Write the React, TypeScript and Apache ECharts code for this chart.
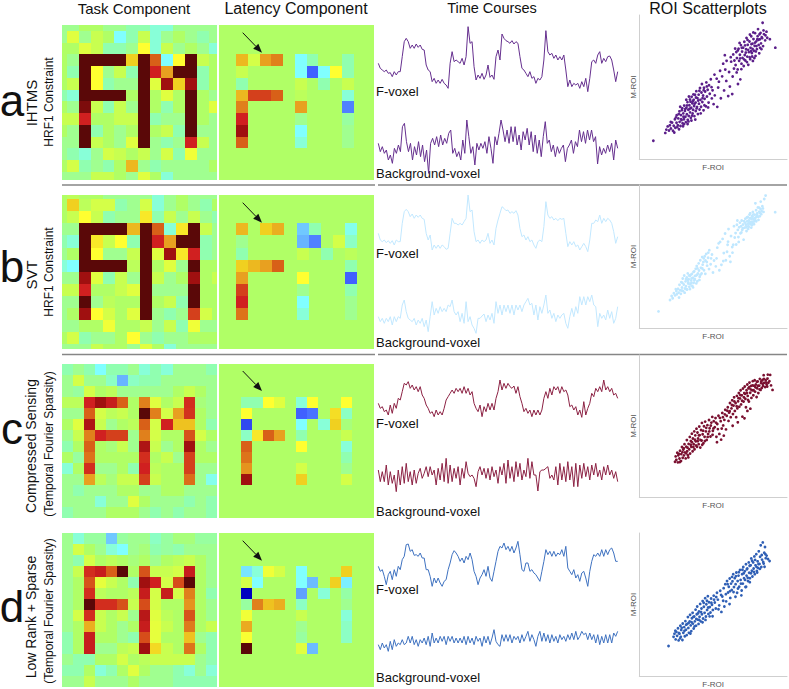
import React, { useEffect, useRef } from "react";
import * as echarts from "echarts";

const titles = ["Task Component", "Latency Component", "Time Courses", "ROI Scatterplots"];

// ---- task component maps (rows of 14 cells on the colour scale -9..9)
const taskA = [
[-1,-1,0,0,-1,-1,-2,-2,-3,-3,-1,-1,-1,-1],
[-1,2,-1,1,0,-4,-2,1,-3,-1,0,-1,-2,-1],
[0,0,2,1,-2,-2,-1,3,-3,1,-1,0,-1,-3],
[0,-1,9,9,9,9,4,9,6,-4,3,9,1,0],
[0,-2,9,3,-1,1,-2,9,7,5,9,9,-2,0],
[0,1,9,3,-2,-1,-1,9,2,8,4,8,-2,0],
[-2,-3,9,9,9,9,0,9,0,2,0,9,0,-1],
[0,-1,8.5,1,-2,1,-1,9,0,-2,0,9,0,2],
[1,1,7,0,0,1,1,9,-2,-1,-1,9,0,-1],
[0,-1,9,-2,0,-1,0,9,0,1,-2,9,-1,-1],
[-1,-1,9,1,0,-1,2,9,-1,-2,-1,7,1,-1],
[-1,-2,-3,-1,1.5,1,0,1,-1,1.5,-2,2.5,-1,-1],
[0,1.5,-2,-1,-2,0,4.5,-1,-2,-1,-1,-1,-1,0],
[-1,-1,-1,1,1,0,-1,2,0,-3,-1,-1,-1,-1],
];
const taskB = [
[0,0.5,0,0,-1,-1,-1,-1,-3,-1,0,-1,-1,-1],
[0,4,0.5,1.5,1.5,-2,-1,1.5,-3,-1,0,-1,-2,0],
[0,1,3,1,-2,-1,-1,3.5,-2,1,-1,1,-1,-2],
[-1,-1,9,9,9,9,4.5,9,6,-3,3.5,9,1,-1],
[-2,-3,9,3.5,1,3,-2,9,7,5,9,9,-2,-1],
[-1,0,9,3,-1,-1,1,9,2,8,3.5,7,-2,-1],
[-3,-4,9,9,9,9,0.5,9,0,2,-1,9,0,0],
[-1,-1,8,2,-2,1,-1,9,1,-1,0,8,0,1],
[1,1,7,0,0,1,2,9,-1,-1,-1,9,0,0],
[-1,-1,9,-1,0.5,0,0,9,0,1,-2,9,0,0],
[-1,0,8,3,1.5,0,2,9,-1,-2,-1,6.5,1.5,0],
[-1,-1,0,0,2.5,0,0,1,-1,1,-2,2.5,-1,-1],
[0,1.5,-2,-1,-1,0,3,-1,-2,-1,-1,0,0,0],
[-1,-1,-1,1,0,0,-1,2,0,-3,-1,-1,-1,-1],
];
const taskC = [
[-2,-1,-2,-4,-2,-2,-1,-3,-2,-3,-1,-1,-1,-2],
[-1,1.5,-1,-1,-2.5,-5.5,-2.5,-2,-2,-1,-1,-1,-1,-1],
[-1,-1.5,1.5,0,0.5,-1,-1,-1,-1,-1,0,1,0,-1],
[0.5,0.5,7,8,7.2,6,0,5.5,2,0,1,6.8,-0.5,-1],
[-1,-1,6,1.5,0.5,1,0,9,5.5,1.5,5,6.7,0,-1],
[0,2,7.7,1,-1,0,0.5,6,1.5,7,4.3,4.3,0,-2],
[-1,1,5.5,7,6.5,6.5,-1,5.5,1.5,0,0,6.2,1.5,0],
[-2,0,6,0,-0.5,1,-1,7.7,1,-1,0,8,0,-1],
[0,-1.5,5.7,0,0,0,0,6.8,0,1,-1,6.5,0,0],
[-3,0,6.8,-1,-1,0,-2,7,0.5,0,0,6.5,-1,-1],
[-1,-1,5,0.5,-0.5,1,1,6.5,1,0,0,5.8,-1,-3.5],
[-1,-2,-1,-1,-1,0,0,-1,-1,0,0,-1,-1,-1],
[-1,-1,-1,-3,-1,-1,2,0,-1,-1,-1,-2,-1,-2],
[-2,-1,-1,-1,0,0,0,-1,-2,-1,-2,-1,-1,-2],
];
const taskD = [
[-1,-3,-1.5,-1.5,-5,-1.5,-1,-1,-2.5,-1.5,-0.5,-0.5,-1.5,-1.5],
[-1,1.5,0,-1,-3,-4,-1,-0.5,-2,-1.5,-2,-1,-1,-1],
[-1,-2,1.5,0,0.5,0,-0.5,0,-1,0,0.5,1,0,-1],
[-1,1,6.8,7.2,6,9,0,6.2,1,1,1.5,7.2,0,-1],
[-1,0,6.2,2.2,1,0,-2,8,7,1.5,6.3,9,0,-1],
[-1,0,6.8,0.5,0,0,0.5,7.2,1.5,7.2,1.5,5.5,0,-2],
[-1,0,9,6.8,6.8,6.2,1,6.3,1.5,0,0,5.2,0,-1],
[-1,1.5,6.8,1,0,1,-1,7.5,2,0.5,0,6.2,0,-1],
[-1,0,4.7,1,0,-1,0,7.2,2.2,1,0,5.6,0,1],
[-2,0,7.2,0,0,-1,-2,6.3,2.2,0,0,4.3,-1,-2],
[-2,0,7.2,-1,-1,0.5,1,8,3.8,1,0,5.7,0,-2],
[-1,-2,-2,0,0,1.5,0,0.5,1,1,1,1,-1,-2],
[-2,-2,0,-3,-2,0,2,0,-1,-1,-2,-3,-1,-3],
[-1,-1,1,-1,-1,-1,0,-1,-1,-1,-2,-2,-2,-2],
];

// ---- latency component maps: [row, column, value]; every other cell is 0
const latencyA = [
[3,2,4.5],[3,3,1.5],[3,4,5],[3,5,5.5],[3,7,-4],[3,8,-2],[3,11,-2],
[4,2,1],[4,7,-4],[4,8,-7],[4,9,-4],[4,10,3],[4,11,-2],
[5,2,-2],[5,7,1],[5,9,-2],[5,11,1],
[6,2,4.5],[6,3,6.5],[6,4,6.5],[6,5,6],[6,7,0.5],[6,11,-3],
[7,2,5.5],[7,7,5],[7,11,-6.5],
[8,2,7],[8,7,-1],[8,11,-1.5],
[9,2,8],[9,7,-4],[9,11,-1],
[10,2,6],[10,7,-3],[10,11,-1],
];
const latencyB = [
[3,2,4.5],[3,4,4],[3,5,4.7],[3,7,-5],[3,8,-2],[3,11,-3.5],
[4,2,-1],[4,7,-5.5],[4,8,-6.5],[4,10,1.5],[4,11,-2.5],
[5,2,-2],[5,7,1],[5,9,-2],[5,11,0.5],
[6,2,4],[6,3,4.5],[6,4,5],[6,5,6],[6,11,-2],
[7,2,5],[7,7,3],[7,11,-7],
[8,2,6.5],[8,7,-1],[8,11,-2],
[9,2,7],[9,7,-4],[9,11,-1],
[10,2,5.7],[10,7,-3],[10,11,-1],
];
const latencyC = [
[3,2,-2],[3,3,-2],[3,4,3],[3,5,2],[3,7,-3],[3,8,3],[3,11,3],
[4,2,3],[4,7,-7],[4,8,-6.7],[4,10,3.7],[4,11,-2.5],
[5,2,-7.5],[5,7,-4],[5,9,-3],[5,10,4],[5,11,-0.5],
[6,2,-2.5],[6,3,3.5],[6,4,6],[6,5,5],[6,7,-2],[6,11,1],
[7,2,6],[7,7,3],[7,11,-3],
[8,2,5.7],[8,11,-2],
[9,2,5.2],[9,7,1.5],[9,11,-1],
[10,2,8],[10,7,4],[10,11,1.5],
];
const latencyD = [
[3,2,-4.5],[3,3,-3],[3,4,2.5],[3,5,1.5],[3,7,-4],[3,11,4],
[4,2,1.5],[4,3,-4],[4,7,-4],[4,8,-5.3],[4,10,4],[4,11,-4.3],
[5,2,-9],[5,7,-6],[5,9,-3],[5,11,-1.7],
[6,2,-1.5],[6,3,5.5],[6,4,4.3],[6,5,4.7],[6,7,-2.5],[6,11,-1],
[7,2,2.5],[7,7,1],[7,11,-3],
[8,2,4.8],[8,7,-1],[8,11,-2.5],
[9,2,2.8],[9,7,-1.5],[9,11,-2.5],
[10,2,9],[10,7,2],[10,8,-5.3],
];

// ---- time courses, read downward on an inverted scale
const courseAF = [130,145,150,155,150,160,158,170,155,165,155,155,110,65,55,65,85,75,85,72,82,75,88,90,135,150,155,185,175,190,180,190,178,190,195,205,130,95,125,120,125,130,115,135,110,20,70,65,140,180,165,175,160,178,165,135,172,165,178,110,90,120,42,55,62,65,70,62,72,65,70,110,145,150,160,170,155,175,170,190,175,180,170,120,32,95,105,100,115,105,120,110,120,105,150,200,180,200,190,195,190,205,185,200,175,215,175,125,120,130,105,95,130,115,125,110,108,120,150,185,155];
const courseAB = [370,395,380,400,390,420,405,430,385,400,375,395,320,310,365,395,370,420,380,405,365,410,375,425,390,460,370,355,375,350,380,345,375,355,370,340,330,400,385,410,395,420,360,400,300,350,400,380,435,370,390,370,385,365,400,350,385,430,350,375,340,300,330,365,330,370,320,365,320,375,345,390,335,360,325,375,335,395,345,400,360,410,350,305,370,360,395,375,410,380,400,385,375,425,385,375,360,400,365,380,330,365,335,370,330,360,330,365,350,432,380,405,385,400,375,395,370,420,360,385];
const courseBF = [130,150,155,150,158,152,160,152,165,150,155,155,100,65,58,65,80,72,85,75,82,75,85,88,130,150,135,180,165,175,165,175,165,170,178,175,130,85,100,100,105,100,105,95,85,15,65,60,125,155,150,160,150,155,150,130,160,150,165,115,90,70,50,55,62,60,70,65,70,62,75,115,140,135,150,140,155,150,165,175,155,150,155,110,35,75,85,80,90,85,92,85,88,85,130,170,155,165,155,170,165,180,170,160,170,185,150,100,100,90,95,75,100,85,95,85,90,100,125,160,140];
const courseBB = [380,395,385,400,385,395,380,405,380,395,380,385,345,330,365,385,390,395,385,405,390,400,385,410,390,425,380,335,375,355,370,350,365,355,365,345,350,330,365,375,365,395,370,400,335,395,380,405,415,430,385,385,378,372,395,375,390,370,400,335,370,345,375,345,365,345,370,345,375,345,360,345,365,345,335,325,345,340,375,345,390,350,370,345,315,370,360,385,370,395,375,385,375,370,400,415,380,355,380,350,370,320,345,320,345,320,335,315,345,350,410,370,385,375,390,360,385,365,400,385,350];
const courseCF = [130,145,140,155,150,165,135,160,130,145,115,120,95,70,75,65,85,75,90,80,95,80,105,115,135,145,160,155,170,150,165,155,165,145,120,110,100,90,100,85,95,85,100,80,100,85,105,95,130,145,155,135,170,140,155,130,150,130,150,115,95,60,90,70,85,70,80,85,78,100,80,110,130,155,145,160,150,170,150,165,150,165,150,115,95,115,85,105,80,90,80,100,80,95,90,105,140,135,150,140,165,150,172,125,165,145,130,100,110,85,95,80,95,60,90,80,95,85,105,100,115];
const courseCB = [330,365,335,365,315,375,335,370,345,395,330,375,320,370,310,365,335,375,330,370,340,325,355,340,320,350,320,345,330,375,325,360,310,365,295,370,315,365,325,355,320,375,325,355,305,340,350,345,355,380,335,320,345,325,355,325,360,320,350,330,370,320,345,310,370,300,355,320,365,305,350,310,360,330,350,295,355,305,345,345,393,335,330,330,325,320,355,345,360,320,375,310,360,320,365,305,360,320,380,310,380,315,355,310,350,320,360,315,345,310,350,330,360,320,345,315,345,330,355,335,365];
const courseDF = [115,130,125,145,170,140,130,155,125,145,115,125,95,85,50,48,70,65,82,80,85,75,90,90,125,125,145,175,150,165,150,165,175,160,155,125,105,80,68,75,85,100,90,105,85,95,75,95,130,145,170,150,140,125,145,115,150,160,130,100,70,55,60,45,65,55,70,55,75,60,40,80,125,130,105,105,130,125,135,140,150,160,130,100,65,80,70,85,70,85,75,80,65,85,55,120,130,140,125,150,140,160,135,130,150,175,130,100,80,85,75,85,65,85,65,80,65,60,75,100,100];
const courseDB = [350,365,345,360,350,370,340,365,335,355,345,350,335,350,345,325,345,325,350,335,355,335,345,330,350,325,355,315,345,330,345,325,340,325,350,325,340,325,345,330,345,330,345,325,350,325,345,330,350,325,340,330,355,325,345,325,350,330,305,340,350,355,320,340,320,340,320,345,325,335,325,345,320,340,325,310,340,320,335,355,325,310,340,315,340,320,345,320,340,325,345,320,335,325,340,320,335,315,335,310,335,325,310,320,315,335,315,335,320,345,320,350,325,345,320,345,320,345,315,325,310];

// ---- ROI scatterplots: [F-ROI, M-ROI]
const scatterA = [
[9.5,12.7],[17.6,18.1],[18.3,20.4],[19.2,22.6],[20.1,19.8],[20.7,23.4],[21.4,21.2],[22.2,25.3],[22.8,19.6],[23.3,23.1],[24.1,27.6],[24.4,21.7],[25.2,25.2],[25.3,30.4],[26.1,23.4],[26.4,28.2],[27.2,33.1],[27.3,25.8],[27.9,22.9],[28.2,30.5],[28.6,27.1],[29.1,35.2],[29.3,24.8],[29.8,31.7],[30.2,27.6],[30.4,37.1],[30.9,33.4],[31.2,29.4],[31.5,25.6],[31.9,35.6],[32.2,31.1],[32.6,39.5],[32.8,27.2],[33.2,34.2],[33.5,29.9],[33.9,37.3],[34.3,41.3],[34.4,32.4],[34.9,28.6],[35.1,35.6],[35.4,43.2],[35.9,38.7],[36.1,31.6],[36.4,34.2],[36.8,41.1],[37.1,36.8],[37.3,29.8],[37.7,44.6],[38.1,39.2],[38.2,33.3],[38.6,47.1],[39.1,36.2],[39.4,42.3],[39.7,31.2],[40.2,44.7],[40.4,38.4],[40.8,34.4],[41.1,49.3],[41.4,41.1],[41.8,36.3],[42.1,46.2],[42.4,52.1],[42.7,39.6],[43.2,44.1],[43.5,33.8],[43.8,49.5],[44.2,41.8],[44.6,46.9],[45.1,36.6],[45.4,53.2],[45.8,43.4],[46.3,48.1],[46.9,39.2],[47.2,51.2],[47.7,45.3],[48.4,55.4],[49.1,42.1],[49.6,47.7],[50.3,38.1],[51.1,44.2],[52.4,55.8],[52.8,36.2],[53.4,49.6],[54.7,61.3],[55.2,42.2],[56.1,57.4],[56.8,66.2],[57.4,47.6],[58.2,62.1],[58.9,54.2],[59.1,68.2],[60.2,43.7],[60.8,60.4],[61.3,50.3],[62.2,67.6],[62.9,45.1],[63.6,72.6],[64.1,62.8],[64.4,68.4],[65.2,65.3],[65.7,74.3],[66.1,70.1],[66.6,62.2],[66.8,52.1],[67.2,76.6],[67.6,68.2],[68.1,72.4],[68.4,55.3],[68.8,79.1],[69.2,66.2],[69.6,74.6],[69.9,70.2],[70.3,77.3],[70.7,64.6],[71.1,81.4],[71.4,72.2],[71.8,68.4],[72.3,76.2],[72.6,84.1],[73.1,71.1],[73.4,79.3],[73.8,65.4],[74.2,74.2],[74.6,81.6],[75.1,69.3],[75.3,77.2],[75.8,85.2],[76.2,73.6],[76.6,80.1],[76.9,68.1],[77.3,83.3],[77.6,75.2],[78.1,78.6],[78.4,87.4],[78.7,71.6],[79.2,81.7],[79.6,76.3],[80.1,85.3],[80.4,90.2],[80.8,79.2],[81.2,73.4],[81.6,83.1],[82.1,87.6],[82.4,80.3],[82.9,84.6],[83.5,94.6],[83.8,78.4],[84.4,86.7],[85.2,82.4],[86.1,88.4],[86.6,84.2],[88.4,83.2],[92.1,77.3],
[21.3,25.7],[23.7,18.4],[24.8,28.9],[26.9,20.6],[27.7,36.3],[28.8,33.9],[29.6,22.7],[30.7,29.1],[31.1,34.8],[32.7,24.3],[33.3,26.1],[34.7,39.8],[35.3,26.7],[36.6,44.9],[37.9,27.4],[38.8,35.1],[39.9,40.6],[41.6,31.7],[42.8,42.3],[44.1,37.3],[45.7,50.4],[46.6,35.8],[48.9,49.9],[30.3,24.2],[33.6,43.4],[36.2,40.1],[28.3,27.7],[26.7,31.2],[35.7,30.1],[38.4,42.7],[40.7,47.4],[31.8,41.2],[43.6,47.8],[25.7,22.1],[37.4,38.3],[34.1,34.9],[32.3,37.2],[29.9,29.4],[50.9,58.6],[53.9,53.7],[61.9,70.7],[63.2,57.3],[57.9,72.1],
[64.9,76.7],[65.9,60.1],[67.9,80.6],[69.1,62.4],[70.9,69.2],[72.9,67.3],[73.7,75.8],[74.9,86.4],[75.6,74.8],[76.4,71.2],[77.9,70.1],[78.9,74.7],[79.9,83.2],[81.8,77.2],[82.7,76.3],[83.2,83.9],[71.6,78.9],[72.1,73.9],[73.3,82.7],[74.7,70.7],[75.9,79.8],[76.7,76.4],[77.2,87.9],[78.3,80.8],[79.3,78.4],[80.6,82.8],[81.4,86.6],[69.4,77.2],[68.3,69.9],[66.7,75.4],[85.4,85.9],[84.1,89.3]];
const scatterB = [
[13,11.6],[20.8,19.6],[21.9,22.4],[22.6,20.8],[23.4,24.3],[24.2,22.8],[25.1,25.9],[25.4,23.6],[26.2,27.4],[26.6,24.7],[27.2,30.2],[27.6,26.4],[28.1,23.9],[28.4,32.1],[28.9,28.3],[29.4,34.6],[29.7,25.8],[30.1,30.4],[30.4,36.7],[30.9,27.6],[31.3,32.6],[31.6,29.2],[32.1,35.3],[32.4,26.9],[32.8,38.2],[33.1,31.1],[33.4,34.1],[33.9,28.8],[34.2,36.4],[34.6,30.6],[35.1,33.3],[35.6,37.8],[35.9,29.4],[36.3,35.1],[36.8,31.6],[37.2,39.6],[37.6,34.2],[38.2,41.4],[38.4,36.6],[38.9,43.3],[39.3,32.7],[39.7,38.2],[40.2,45.2],[40.4,40.2],[40.9,35.9],[41.3,47.4],[41.7,42.1],[42.2,38.1],[42.6,49.6],[42.9,44.3],[43.4,46.2],[43.8,40.4],[44.3,50.2],[44.8,47.2],[45.3,51.8],[45.9,43.6],[46.6,49.1],[47.4,54.4],[48.3,44.6],[49.2,51.4],[49.9,38.8],[50.6,47.2],[51.8,43.1],[52.8,56.2],[54.2,40.4],[54.7,60.2],[55.6,44.2],[56.4,62.3],[57.2,52.4],[58.1,66.1],[58.6,47.4],[59.4,53.3],[60.1,60.4],[60.4,69.2],[61.2,50.2],[62.1,64.3],[62.9,56.6],[63.6,58.2],[64.1,71.2],[64.6,63.3],[65.2,66.4],[65.6,58.4],[66.1,72.2],[66.7,68.6],[67.1,63.6],[67.6,70.4],[68.1,73.7],[68.5,66.2],[68.9,71.1],[69.3,75.2],[69.7,68.7],[70.2,72.4],[70.6,61.8],[70.9,74.6],[71.3,70.2],[71.8,76.4],[72.2,72.2],[72.6,67.8],[73.1,74.7],[73.4,77.6],[73.8,71.2],[74.2,75.2],[74.6,79.3],[75.1,72.8],[75.4,76.7],[75.8,70.2],[76.2,78.4],[76.6,74.3],[76.9,81.2],[77.4,76.2],[77.7,72.6],[78.2,79.3],[78.6,75.3],[79.1,82.4],[79.4,77.8],[79.9,80.2],[80.3,84.3],[80.7,75.6],[81.2,81.4],[81.6,78.2],[82.1,83.2],[82.6,79.6],[83.3,85.2],[84.1,81.2],[85.5,92.6],[84.6,90.2],[82.2,88.4],[78.6,87.2],[92,81],
[24.7,27.2],[26.9,21.3],[28.8,26.2],[29.1,31.7],[30.7,24.7],[31.9,27.1],[32.7,33.4],[33.7,36.8],[34.3,27.2],[35.4,34.7],[36.4,28.4],[37.7,36.4],[38.6,31.2],[39.4,41.7],[40.7,33.6],[41.4,37.2],[42.7,41.6],[43.6,48.7],[44.7,37.9],[45.7,46.1],[46.7,52.7],[47.2,41.2],[48.6,48.7],[31.6,34.2],[33.2,31.9],[35.3,31.7],[37.3,33.4],[39.2,37.3],[34.7,37.1],[36.7,39.2],[52.3,48.7],[53.7,59.2],[56.9,46.8],[59.8,58.2],[61.7,46.3],[63.1,52.7],
[66.4,75.2],[67.3,60.2],[69.1,66.8],[70.1,69.8],[71.7,73.6],[72.4,70.4],[73.6,72.9],[74.1,70.8],[74.8,76.8],[75.7,74.1],[76.3,71.9],[77.2,79.4],[77.9,74.6],[78.7,77.2],[79.2,74.6],[79.7,79.1],[80.6,77.8],[81.1,84.2],[81.8,80.4],[82.9,81.7],[83.7,83.6],[72.8,77.3],[73.7,69.3],[75.1,80.2],[76.1,76.4],[77.1,73.1],[78.1,76.8],[74.4,73.8],[75.9,72.4],[76.7,77.9]];
const scatterC = [
[24.2,24.8],[24.6,28.6],[25.1,26.2],[25.7,31.2],[26.1,24.4],[26.4,29.4],[27.2,27.1],[27.6,32.6],[28.2,25.3],[28.4,30.2],[28.9,35.2],[29.4,27.6],[29.8,33.4],[30.2,29.3],[30.6,37.2],[30.9,31.4],[31.4,27.2],[31.8,35.4],[32.2,40.1],[32.4,32.2],[32.9,29.4],[33.4,37.4],[33.8,33.6],[34.2,42.3],[34.4,30.6],[34.9,39.4],[35.2,35.4],[35.6,44.6],[36.1,32.2],[36.3,41.2],[36.8,37.2],[37.2,46.2],[37.4,33.6],[37.9,43.4],[38.2,39.2],[38.7,48.1],[39.1,35.4],[39.4,45.4],[39.8,41.2],[40.2,37.2],[40.6,49.6],[40.9,43.6],[41.3,34.8],[41.8,47.2],[42.2,39.8],[42.4,52.2],[42.9,44.2],[43.4,37.8],[43.8,49.8],[44.2,42.4],[44.6,53.1],[45.1,46.2],[45.6,40.2],[46.1,50.6],[46.6,44.4],[47.2,54.2],[47.6,48.4],[48.2,42.6],[48.8,52.4],[49.4,56.4],[49.8,46.6],[50.4,53.4],[51.1,49.2],[51.6,55.6],[52.2,42.4],[52.8,51.4],[53.6,57.2],[54.2,44.4],[55.1,53.4],[55.4,40.4],[56.2,59.2],[56.8,50.4],[57.6,54.3],[58.2,61.4],[58.7,47.6],[59.2,57.2],[59.9,63.2],[60.4,53.6],[60.8,59.4],[61.4,66.2],[61.9,56.2],[62.4,62.4],[62.9,68.1],[63.4,58.4],[63.8,64.4],[64.2,70.2],[64.7,60.6],[65.2,66.2],[65.6,56.2],[66.1,71.2],[66.4,62.4],[66.9,67.4],[67.4,73.2],[67.7,63.6],[68.2,69.4],[68.6,75.2],[68.9,65.2],[69.4,71.6],[69.8,56.6],[70.2,76.4],[70.6,67.2],[71.1,73.2],[71.4,77.8],[71.8,69.2],[72.2,63.2],[72.6,75.2],[73.1,79.2],[73.4,71.2],[73.9,76.6],[74.2,67.2],[74.6,80.6],[75.1,73.4],[75.6,78.2],[75.9,69.8],[76.4,75.2],[76.8,81.6],[77.2,71.6],[77.6,78.4],[78.1,82.2],[78.4,74.2],[78.9,79.2],[79.4,70.4],[79.8,76.6],[80.2,81.4],[80.6,73.2],[81.2,78.4],[81.6,83.2],[82.1,75.4],[82.4,80.2],[82.9,76.8],[83.4,82.4],[83.8,78.2],[84.2,85.8],[84.6,80.4],[85.2,77.4],[85.6,82.2],[86.2,79.2],[86.8,83.4],[87.4,80.4],[88.1,81.6],[87,86.2],[88.6,86],[89.2,78.6],[90.2,75.4],
[26.8,30.4],[27.4,24.6],[29.2,31.6],[30.1,34.3],[31.7,30.7],[32.6,34.8],[33.2,27.9],[34.8,36.8],[35.7,38.6],[36.6,35.2],[37.7,40.3],[38.4,36.3],[39.6,39.3],[40.3,43.4],[41.4,40.2],[42.6,36.8],[43.2,46.7],[44.4,39.4],[45.3,48.7],[46.3,42.3],[47.4,46.2],[48.4,50.3],[49.6,43.8],[50.2,48.3],[51.9,52.4],[53.2,47.8],[54.6,55.7],[55.8,48.2],[56.6,56.2],[57.9,58.2],[59.6,60.8],[61.2,60.4],[62.7,64.8],[64.4,67.3],[65.9,63.9],[67.1,69.6],[68.4,71.8],[69.6,67.8],[70.8,70.2],[71.6,72.6],[72.9,73.2],[73.6,68.4],[74.4,77.3],[75.4,75.8],[76.6,78.6],[77.4,75.2],[78.6,77.3],[79.6,81.2],[80.4,78.4],[81.4,75.8],[82.6,81.6],[83.6,79.8],[84.4,83.2],[85.9,80.6],[86.6,77.8],[52.6,38.6],[57.2,43.2],[63.2,50.2],[66.7,52.6],[71.2,55.4],[75.2,62.2],[73.2,60.6]];
const scatterD = [
[19.8,21],[23.2,27.4],[23.8,29.6],[24.6,25.6],[25.1,30.8],[25.6,28.1],[26.2,33.4],[26.6,24.9],[27.2,29.6],[27.8,35.2],[28.1,27.4],[28.4,32.2],[29.2,25.2],[29.4,36.7],[29.8,30.2],[30.4,34.2],[30.8,27.8],[31.2,38.4],[31.6,32.4],[32.1,28.6],[32.4,36.4],[32.9,41.2],[33.2,33.6],[33.6,30.2],[34.1,38.2],[34.4,42.8],[34.8,35.4],[35.2,31.4],[35.6,40.4],[36.1,44.2],[36.3,36.6],[36.8,33.2],[37.2,41.6],[37.6,38.2],[38.1,46.4],[38.4,35.2],[38.9,43.2],[39.2,48.6],[39.6,39.4],[40.1,36.4],[40.4,45.2],[40.8,41.4],[41.2,50.4],[41.6,38.2],[42.1,47.2],[42.4,43.2],[42.9,52.4],[43.2,40.2],[43.7,48.4],[44.2,44.2],[44.6,54.4],[45.1,41.6],[45.4,50.2],[45.9,46.2],[46.4,55.8],[46.8,43.4],[47.2,51.6],[47.7,48.2],[48.2,44.4],[48.6,54.2],[49.2,49.8],[49.8,46.2],[50.4,56.2],[51.1,51.4],[51.8,47.2],[52.6,58.2],[53.2,53.4],[54.1,49.4],[54.8,59.6],[55.6,44.8],[56.2,55.6],[57.1,61.4],[57.6,48.6],[58.2,64.2],[58.8,52.2],[59.4,66.4],[60.1,58.4],[60.6,62.4],[61.2,68.2],[61.6,54.6],[62.1,64.6],[62.6,60.2],[63.1,66.2],[63.6,71.2],[64.1,62.2],[64.6,68.4],[65.2,64.2],[65.7,72.4],[66.2,58.2],[66.6,66.4],[67.2,70.2],[67.6,62.4],[68.2,74.2],[68.6,67.2],[69.1,56.4],[69.6,71.2],[70.1,64.6],[70.4,76.2],[70.9,68.4],[71.4,73.2],[71.9,62.2],[72.2,78.2],[72.6,70.2],[73.1,75.2],[73.6,66.4],[74.1,79.4],[74.4,72.2],[74.9,68.4],[75.4,77.4],[75.8,82.2],[76.2,73.6],[76.6,69.6],[77.1,79.4],[77.4,75.2],[77.9,83.6],[78.2,71.2],[78.7,77.4],[79.2,85.2],[79.6,73.4],[80.1,80.2],[80.4,75.6],[80.9,87.2],[81.4,78.4],[81.8,83.4],[82.2,91.4],[82.6,76.2],[83.1,81.4],[83.6,93.4],[84.2,78.6],[84.6,86.2],[85.1,90.2],[85.6,82.4],[86.2,84.2],[87.1,81.8],[88.2,80.4],
[24.4,31.7],[26.8,30.1],[27.6,26.3],[28.7,33.8],[30.6,31.6],[31.7,35.9],[33.4,37.1],[34.6,29.7],[35.4,37.6],[36.6,41.3],[37.4,34.7],[38.6,39.9],[39.8,43.9],[40.6,39.2],[41.8,44.7],[42.8,37.6],[43.6,51.2],[44.8,39.2],[45.8,52.6],[46.6,47.9],[47.6,41.7],[48.8,51.2],[49.6,41.8],[50.6,53.4],[52.1,55.2],[53.6,46.7],[55.4,56.7],[56.8,52.6],[58.6,57.2],[59.8,64.2],[61.4,59.3],[62.8,69.3],[63.8,58.7],[65.4,69.8],[66.8,61.2],[67.4,72.6],[68.8,64.6],[69.8,74.3],[70.7,71.8],[71.6,67.2],[72.8,74.6],[73.4,68.7],[74.7,77.1],[75.6,71.8],[76.4,80.6],[77.6,72.8],[78.4,81.2],[79.4,76.3],[80.7,78.3],[81.6,74.9],[82.9,84.6],[83.9,79.7],[85.4,85.2],[72.3,62.4],[69.3,59.8],[65.1,55.4],[61.1,50.3],[74.8,65.6],[79.8,72.4],[84.8,76.4]];

const colorScale = ["#0000c0","#2030e0","#4060ff","#60a0ff","#70c8ff","#80ffff","#88ffd8","#90ffb0","#a0ff90","#b0ff66","#c8ff50","#e0ff40","#ffff30","#f0d020","#e8a020","#d86018","#d02020","#a01010","#5a0808"];

const rowLabels = ["a", "b", "c", "d"];
const methodLabels = ["IHTMS", "SVT", "Compressed Sensing", "Low Rank + Sparse"];
const constraintLabels = ["HRF1 Constraint", "HRF1 Constraint", "(Temporal Fourier Sparsity)", "(Temporal Fourier Sparsity)"];
const voxelLabels = ["F-voxel", "Background-voxel"];

const FONT = "'Liberation Sans', Arial, sans-serif";

const panels = [
  { task: taskA, lat: latencyA, top: 25.3, h: 154.7, xr: [0.555, 13.69], yr: [0.535, 13.68], fc: courseAF, bc: courseAB, sc: scatterA, lineColor: "#66308f", dotColor: "#5b1f8a", tt: 20, th: 170, tmax: 510, st: 15, sb: 159, labelF: 91, labelB: 173, letterY: 100, methodY: 103, constraintY: 102, arrow: 32.7 },
  { task: taskB, lat: latencyB, top: 194.7, h: 154.6, xr: [0.595, 13.38], yr: [0.63, 13.41], fc: courseBF, bc: courseBB, sc: scatterB, lineColor: "#c2e8ff", dotColor: "#bfe7ff", tt: 190, th: 170, tmax: 510, st: 185, sb: 328, labelF: 253, labelB: 342, letterY: 266, methodY: 275, constraintY: 272, arrow: 202.7 },
  { task: taskC, lat: latencyC, top: 364, h: 153.7, xr: [0, 14], yr: [0, 14], fc: courseCF, bc: courseCB, sc: scatterC, lineColor: "#8c2244", dotColor: "#7a1030", tt: 360, th: 170, tmax: 510, st: 355, sb: 497, labelF: 423, labelB: 511, letterY: 428, methodY: 446, constraintY: 444, arrow: 371 },
  { task: taskD, lat: latencyD, top: 532.7, h: 154, xr: [0, 14], yr: [0, 14], fc: courseDF, bc: courseDB, sc: scatterD, lineColor: "#3f72c0", dotColor: "#2f5fb5", tt: 528, th: 161, tmax: 483, st: 533, sb: 677, labelF: 589, labelB: 677, letterY: 606, methodY: 617, constraintY: 611, arrow: 540.7 },
];

function cellsFromMatrix(m: number[][]) {
  const out: number[][] = [];
  m.forEach((row, r) => row.forEach((v, c) => out.push([c, r, v])));
  return out;
}
function cellsFromSparse(s: number[][]) {
  const m = Array.from({ length: 14 }, () => Array(14).fill(0));
  s.forEach(([r, c, v]) => { m[r][c] = v; });
  return cellsFromMatrix(m);
}
function renderCell(params: any, api: any) {
  const c = api.value(0), r = api.value(1);
  const a = api.coord([c, r]);
  const b = api.coord([c + 1, r + 1]);
  const shape = echarts.graphic.clipRectByRect(
    { x: a[0], y: a[1], width: b[0] - a[0], height: b[1] - a[1] },
    params.coordSys
  );
  if (!shape) return undefined as any;
  const x0 = Math.round(shape.x), y0 = Math.round(shape.y);
  const x1 = Math.round(shape.x + shape.width), y1 = Math.round(shape.y + shape.height);
  return {
    type: "rect",
    shape: { x: x0, y: y0, width: x1 - x0, height: y1 - y0 },
    style: { fill: api.visual("color") },
  };
}

function buildOption() {
  const grid: any[] = [], xAxis: any[] = [], yAxis: any[] = [], series: any[] = [], graphic: any[] = [];
  const cellSeries: number[] = [];
  const addCartesian = (g: any, x: any, y: any) => {
    grid.push({ containLabel: false, ...g });
    xAxis.push({ gridIndex: grid.length - 1, ...x });
    yAxis.push({ gridIndex: grid.length - 1, ...y });
    return grid.length - 1;
  };
  const hidden = { show: false, splitLine: { show: false } };
  const text = (x: number, y: number, t: string, fontSize: number, rotation = 0, align = "center", fill = "#111") => ({
    type: "text", x, y, rotation, silent: true,
    style: { text: t, fontSize, fontFamily: FONT, fill, align, verticalAlign: "middle" },
  });

  panels.forEach((p, i) => {
    // task map
    let g = addCartesian(
      { left: 62, top: p.top, width: 154.7, height: p.h },
      { type: "value", min: p.xr[0], max: p.xr[1], ...hidden },
      { type: "value", min: p.yr[0], max: p.yr[1], inverse: true, ...hidden }
    );
    cellSeries.push(series.length);
    series.push({ type: "custom", xAxisIndex: g, yAxisIndex: g, renderItem: renderCell, data: cellsFromMatrix(p.task), encode: { x: 0, y: 1 }, silent: true });
    // latency map
    g = addCartesian(
      { left: 219, top: p.top, width: 154.7, height: p.h },
      { type: "value", min: p.xr[0], max: p.xr[1], ...hidden },
      { type: "value", min: p.yr[0], max: p.yr[1], inverse: true, ...hidden }
    );
    cellSeries.push(series.length);
    series.push({ type: "custom", xAxisIndex: g, yAxisIndex: g, renderItem: renderCell, data: cellsFromSparse(p.lat), encode: { x: 0, y: 1 }, silent: true });
    // time courses
    ([p.fc, p.bc] as number[][]).forEach((vals) => {
      g = addCartesian(
        { left: 378.3, top: p.tt, width: 239.4, height: p.th },
        { type: "category", data: vals.map((_, k) => k), boundaryGap: false, ...hidden },
        { type: "value", min: 0, max: p.tmax, inverse: true, ...hidden }
      );
      series.push({ type: "line", xAxisIndex: g, yAxisIndex: g, data: vals, showSymbol: false, symbol: "none", silent: true, lineStyle: { color: p.lineColor, width: 1 } });
    });
    // scatter
    const axisName = { fontSize: 8, color: "#555", fontFamily: FONT };
    g = addCartesian(
      { left: 639.3, top: p.st, width: 147.7, height: p.sb - p.st },
      { type: "value", min: 0, max: 100, name: "F-ROI", nameLocation: "middle", nameGap: 4, nameTextStyle: axisName,
        axisLine: { show: true, onZero: false, lineStyle: { color: "#cfcfcf", width: 1 } }, axisTick: { show: false }, axisLabel: { show: false }, splitLine: { show: false } },
      { type: "value", min: 0, max: 100, name: "M-ROI", nameLocation: "middle", nameGap: 2, nameRotate: 90, nameTextStyle: axisName,
        axisLine: { show: true, onZero: false, lineStyle: { color: "#cfcfcf", width: 1 } }, axisTick: { show: false }, axisLabel: { show: false }, splitLine: { show: false } }
    );
    series.push({ type: "scatter", xAxisIndex: g, yAxisIndex: g, data: p.sc, symbolSize: 2.8, silent: true, itemStyle: { color: p.dotColor, opacity: 1 } });

    // arrow
    const x0 = 242.7, y0 = p.arrow, x1 = 262, y1 = p.arrow + 20;
    const len = Math.hypot(x1 - x0, y1 - y0), ux = (x1 - x0) / len, uy = (y1 - y0) / len;
    const bx = x1 - ux * 9, by = y1 - uy * 9;
    graphic.push({ type: "line", silent: true, z: 50, shape: { x1: x0, y1: y0, x2: bx, y2: by }, style: { stroke: "#111", lineWidth: 1 } });
    graphic.push({ type: "polygon", silent: true, z: 50, shape: { points: [[x1, y1], [bx - uy * 3.6, by + ux * 3.6], [bx + uy * 3.6, by - ux * 3.6]] }, style: { fill: "#111" } });

    graphic.push(text(376, p.labelF, voxelLabels[0], 13, 0, "left"));
    graphic.push(text(376, p.labelB, voxelLabels[1], 13, 0, "left"));
    graphic.push(text(12, p.letterY, rowLabels[i], 44));
    graphic.push(text(31, p.methodY, methodLabels[i], i < 2 ? 15 : 14, Math.PI / 2));
    graphic.push(text(49, p.constraintY, constraintLabels[i], 12, Math.PI / 2));
  });

  const heads: number[][] = [[134, 15], [296, 16], [492, 14.5], [708, 16]];
  titles.forEach((t, i) => graphic.push(text(heads[i][0], 8, t, heads[i][1])));
  [185, 354.5].forEach((y) => {
    graphic.push({ type: "line", silent: true, shape: { x1: 62, y1: y, x2: 375, y2: y }, style: { stroke: "#868686", lineWidth: 1.4 } });
    graphic.push({ type: "line", silent: true, shape: { x1: 378, y1: y, x2: 787, y2: y }, style: { stroke: "#868686", lineWidth: 1.4 } });
  });

  return {
    animation: false,
    backgroundColor: "#ffffff",
    grid, xAxis, yAxis, series, graphic,
    visualMap: [{ show: false, type: "continuous", seriesIndex: cellSeries, dimension: 2, min: -9, max: 9, inRange: { color: colorScale } }],
  };
}

export default function App() {
  const ref = useRef<HTMLDivElement>(null);
  useEffect(() => {
    document.body.style.margin = "0";
    const chart = echarts.init(ref.current!, undefined, { renderer: "svg" });
    chart.setOption(buildOption() as any);
    return () => chart.dispose();
  }, []);
  return <div ref={ref} style={{ width: 789, height: 689 }} />;
}
